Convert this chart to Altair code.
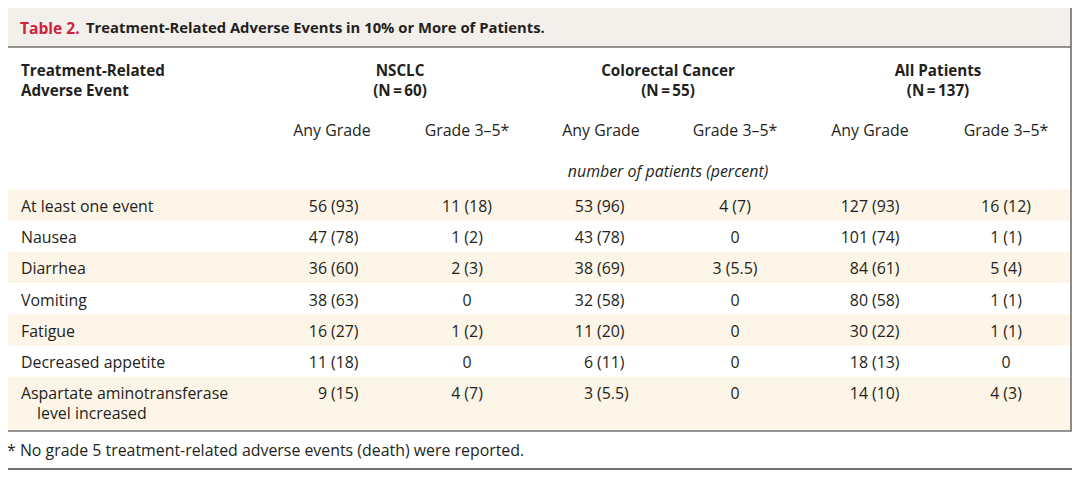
import altair as alt
import pandas as pd

title_label = "Table 2."
title_text = "Treatment-Related Adverse Events in 10% or More of Patients."
row_header = ["Treatment-Related", "Adverse Event"]
groups = ["NSCLC", "Colorectal Cancer", "All Patients"]
group_n = ["(N\u2009=\u200960)", "(N\u2009=\u200955)", "(N\u2009=\u2009137)"]
subheads = ["Any Grade", "Grade 3\u20135*"]
unit_label = "number of patients (percent)"
events = ["At least one event", "Nausea", "Diarrhea", "Vomiting", "Fatigue",
          "Decreased appetite", "Aspartate aminotransferase"]
events_line2 = ["", "", "", "", "", "", "level increased"]
nsclc_any = ["56 (93)", "47 (78)", "36 (60)", "38 (63)", "16 (27)", "11 (18)", "9 (15)"]
nsclc_g35 = ["11 (18)", "1 (2)", "2 (3)", "0", "1 (2)", "0", "4 (7)"]
crc_any = ["53 (96)", "43 (78)", "38 (69)", "32 (58)", "11 (20)", "6 (11)", "3 (5.5)"]
crc_g35 = ["4 (7)", "0", "3 (5.5)", "0", "0", "0", "0"]
all_any = ["127 (93)", "101 (74)", "84 (61)", "80 (58)", "30 (22)", "18 (13)", "14 (10)"]
all_g35 = ["16 (12)", "1 (1)", "5 (4)", "1 (1)", "1 (1)", "0", "4 (3)"]
footnote = "* No grade 5 treatment-related adverse events (death) were reported."

# ---------------- layout (page pixel positions) ----------------
OFF = 8
W, H = 1064, 462
FONT = "Open Sans"
FS = 15.9
FS_BOLD = 15.2
FS_TITLE_LABEL = 15.6
FS_TITLE = 14.8
TXT = "#231f20"
RED = "#d2213c"
GRID = "#707070"
BOX_L, BOX_R, BOX_T, BOX_B = 7, 1071, 7, 431
TITLE_B = 47
ROW0, ROWH = 206, 31.2
BAND_UP = 16.5
LABEL_X, INDENT_X = 21, 37
any_paren_x = [331, 597, 872]
g35_center = [467, 735, 1006]
any_center = [332, 601, 870]
group_center = [400, 668, 938]

xs = alt.Scale(domain=[OFF, OFF + W], range=[0, W], zero=False, nice=False)
ys = alt.Scale(domain=[OFF, OFF + H], range=[0, H], zero=False, nice=False)


def v(p):
    return alt.value(p - OFF)


def one():
    return alt.Chart(pd.DataFrame({"k": [0]}))


def txt(rows, align="center", weight="normal", style="normal", color=TXT, size=FS):
    return alt.Chart(pd.DataFrame(rows)).mark_text(
        align=align, baseline="middle", font=FONT, fontSize=size, dy=1,
        fontWeight=weight, fontStyle=style, color=color
    ).encode(
        x=alt.X("x:Q", scale=xs, axis=None),
        y=alt.Y("y:Q", scale=ys, axis=None),
        text="t:N",
    )


def row_y(i):
    return ROW0 + i * ROWH


# shaded bands for alternating rows
bands = []
for i in range(0, len(events), 2):
    top = row_y(i) - BAND_UP
    bot = BOX_B if i == len(events) - 1 else top + ROWH
    bands.append({"x": BOX_L, "x2": BOX_R, "y": top, "y2": bot})
band_layer = alt.Chart(pd.DataFrame(bands)).mark_rect(color="#fdf5e8").encode(
    x=alt.X("x:Q", scale=xs, axis=None), x2="x2:Q",
    y=alt.Y("y:Q", scale=ys, axis=None), y2="y2:Q",
)

title_band = one().mark_rect(color="#f3efeb").encode(
    x=v(BOX_L), x2=v(BOX_R), y=v(BOX_T), y2=v(TITLE_B))
box = one().mark_rect(filled=False, stroke=GRID, strokeWidth=1.6).encode(
    x=v(BOX_L), x2=v(BOX_R), y=v(BOX_T), y2=v(BOX_B))
title_rule = one().mark_rule(color=GRID, strokeWidth=1.3).encode(
    x=v(BOX_L), x2=v(BOX_R), y=v(TITLE_B))
foot_rule = one().mark_rule(color=GRID, strokeWidth=2).encode(
    x=v(BOX_L), x2=v(BOX_R + 1), y=v(469))

# title
title_red = txt([{"x": 20, "y": 27.5, "t": title_label}], align="left", weight="bold",
                color=RED, size=FS_TITLE_LABEL)
title_rest = txt([{"x": 86, "y": 27.5, "t": title_text}], align="left", weight="bold",
                 size=FS_TITLE)

# headers
hdr_left = txt([{"x": LABEL_X, "y": 69.5, "t": row_header[0]},
                {"x": LABEL_X, "y": 89.5, "t": row_header[1]}], align="left",
               weight="bold", size=FS_BOLD)
hdr_groups = txt([{"x": gx, "y": 69.5, "t": g} for gx, g in zip(group_center, groups)] +
                 [{"x": gx, "y": 89.5, "t": n} for gx, n in zip(group_center, group_n)],
                 weight="bold", size=FS_BOLD)
sub_rows = []
for a, g in zip(any_center, g35_center):
    sub_rows.append({"x": a, "y": 130, "t": subheads[0]})
    sub_rows.append({"x": g, "y": 130, "t": subheads[1]})
hdr_sub = txt(sub_rows)
hdr_unit = txt([{"x": group_center[1], "y": 171, "t": unit_label}], style="italic")

# row labels
lab_rows = [{"x": LABEL_X, "y": row_y(i), "t": e} for i, e in enumerate(events)]
lab2_rows = [{"x": INDENT_X, "y": row_y(i) + 20, "t": e2}
             for i, e2 in enumerate(events_line2) if e2]
labels = txt(lab_rows + lab2_rows, align="left")

# cells
any_cols = [nsclc_any, crc_any, all_any]
g35_cols = [nsclc_g35, crc_g35, all_g35]
num_rows, pct_rows, ctr_rows = [], [], []
for col, px in zip(any_cols, any_paren_x):
    for i, val in enumerate(col):
        if " (" in val:
            n, p = val.split(" ", 1)
            num_rows.append({"x": px - 4, "y": row_y(i), "t": n})
            pct_rows.append({"x": px, "y": row_y(i), "t": p})
        else:
            num_rows.append({"x": px - 4, "y": row_y(i), "t": val})
for col, cx in zip(g35_cols, g35_center):
    for i, val in enumerate(col):
        ctr_rows.append({"x": cx, "y": row_y(i), "t": val})
cells_num = txt(num_rows, align="right")
cells_pct = txt(pct_rows, align="left")
cells_ctr = txt(ctr_rows)

foot = txt([{"x": 7, "y": 450, "t": footnote}], align="left")

chart = alt.layer(
    band_layer, title_band, box, title_rule,
    title_red, title_rest, hdr_left, hdr_groups, hdr_sub, hdr_unit,
    labels, cells_num, cells_pct, cells_ctr, foot, foot_rule,
).properties(
    width=W, height=H,
    autosize=alt.AutoSizeParams(type="none"),
    padding=0,
    background="white",
).configure_view(stroke=None)

chart.save("out.html", embed_options={"renderer": "svg", "actions": False})
